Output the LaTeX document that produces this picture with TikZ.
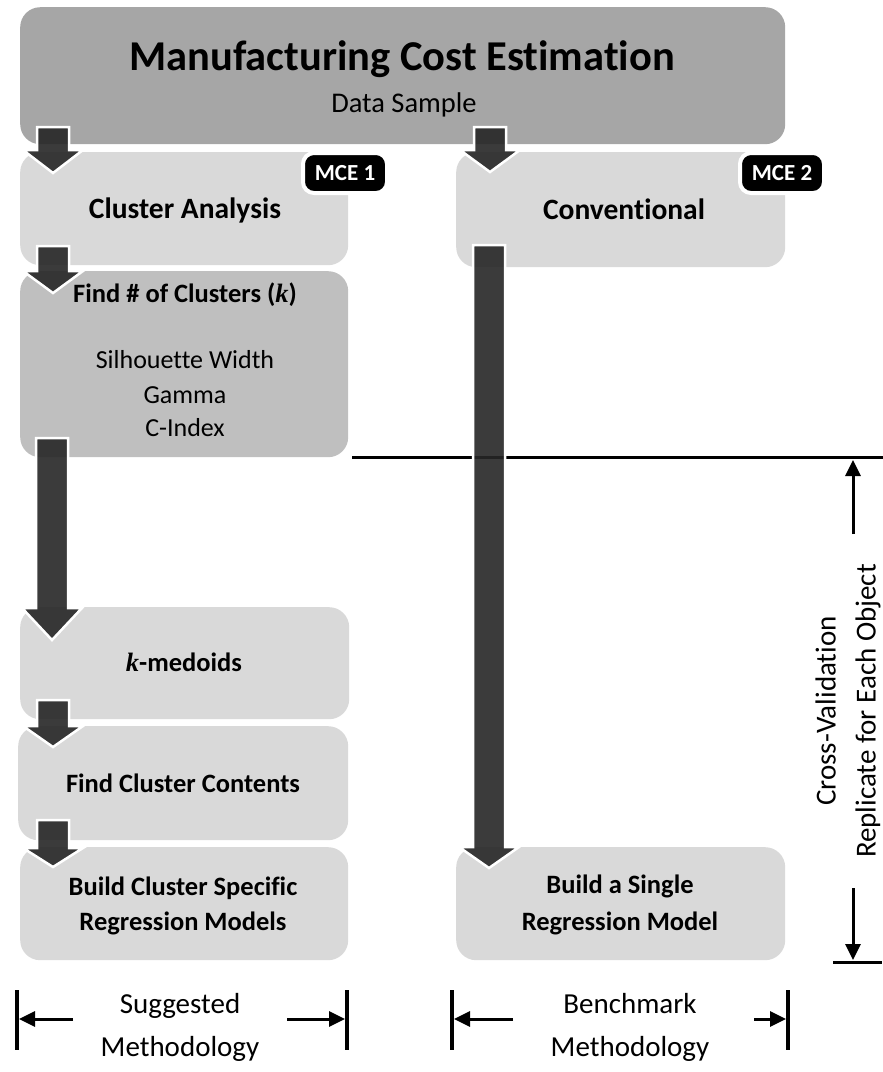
\documentclass[tikz,border=0pt]{standalone}
\usepackage{fontspec}
\setmainfont{Carlito}[Ligatures=NoCommon]
\newfontfamily\kfont{Liberation Serif}
\usetikzlibrary{arrows.meta}
\definecolor{topgray}{HTML}{A6A6A6}
\definecolor{midgray}{HTML}{BFBFBF}
\definecolor{boxlight}{HTML}{D9D9D9}
\definecolor{arrowdark}{HTML}{262626}
\newcommand\kk{{\kfont\bfseries\itshape k}}
\newcommand\fatarr[4]{%
  \filldraw[fatarrow] (#1-16,#2) -- (#1+16,#2) -- (#1+16,#3) -- (#1+30,#3) -- (#1,#4) -- (#1-30,#3) -- (#1-16,#3) -- cycle;}
\tikzset{
  box/.style={draw=none, rounded corners=20pt, anchor=north west, inner sep=0pt},
  fatarrow/.style={fill=arrowdark, fill opacity=0.9, draw=white, draw opacity=1, line width=2.5pt, line join=miter},
  badge/.style={fill=black, draw=white, line width=4pt, rounded corners=11pt, text=white, inner sep=0pt,
    minimum width=84pt, minimum height=40pt, font=\fontsize{23}{27}\selectfont\bfseries},
  lbl/.style={anchor=base, inner sep=0pt, font=\fontsize{26.5}{34}\selectfont\bfseries},
  biglbl/.style={anchor=base, inner sep=0pt, font=\fontsize{29.5}{34}\selectfont\bfseries},
  txt/.style={anchor=base, inner sep=0pt, font=\fontsize{26}{34}\selectfont},
  side/.style={anchor=base, inner sep=0pt, font=\fontsize{29}{40}\selectfont},
  thickline/.style={line width=3pt},
  tip/.style={line width=3pt, -{Triangle[width=15pt,length=16pt]}}
}
\begin{document}
\begin{tikzpicture}[x=1pt,y=-1pt]
\useasboundingbox (0,0) rectangle (883,1072);
% boxes
\node[box, fill=topgray, minimum width=765pt, minimum height=137pt] (top) at (20,7) {};
\node[box, fill=boxlight, minimum width=328pt, minimum height=113pt] (cluster) at (20,152) {};
\node[box, fill=boxlight, minimum width=329pt, minimum height=115pt] (conv) at (456,152) {};
\node[box, fill=midgray, minimum width=328pt, minimum height=186pt] (findk) at (20,271) {};
\node[box, fill=boxlight, minimum width=329pt, minimum height=112pt] (kmed) at (20,607) {};
\node[box, fill=boxlight, minimum width=330pt, minimum height=114pt] (contents) at (18,726) {};
\node[box, fill=boxlight, minimum width=328pt, minimum height=113pt] (build1) at (20,847) {};
\node[box, fill=boxlight, minimum width=329pt, minimum height=113pt] (build2) at (456,847) {};
% texts
\node[anchor=base, inner sep=0pt, font=\fontsize{42.5}{50}\selectfont\bfseries] (title) at (402,70) {Manufacturing Cost Estimation};
\node[anchor=base, inner sep=0pt, font=\fontsize{28.5}{34}\selectfont] (sample) at (404,112) {Data Sample};
\node[biglbl] (tcluster) at (185,218) {Cluster Analysis};
\node[biglbl] (tconv) at (624,219) {Conventional};
\node[lbl] (tfindk) at (185,302) {Find \# of Clusters (\kk)};
\node[txt] (t1) at (185,368) {Silhouette Width};
\node[txt] (t2) at (185,403) {Gamma};
\node[txt] (t3) at (185,436) {C-Index};
\node[lbl] (tkmed) at (184,671) {\kk-medoids};
\node[lbl] (tcont) at (183,792) {Find Cluster Contents};
\node[lbl] (tb1a) at (183,895) {Build Cluster Specific};
\node[lbl] (tb1b) at (183,930) {Regression Models};
\node[lbl] (tb2a) at (620,893) {Build a Single};
\node[lbl] (tb2b) at (620,930) {Regression Model};
% horizontal line
\coordinate (hl1) at (352,457);
\coordinate (hl2) at (883,457);
\draw[thickline] (hl1) -- (hl2);
% fat arrows
\fatarr{53}{127}{150}{173}
\fatarr{490}{127}{150}{172}
\fatarr{53}{246}{271}{293}
\fatarr{52}{438}{608}{640}
\fatarr{53}{700}{726}{747}
\fatarr{53}{820}{848}{867}
\fatarr{489}{245}{847}{868}
% badges
\node[badge] (mce1) at (345,173) {MCE 1};
\node[badge] (mce2) at (782,173) {MCE 2};
% cross validation
\coordinate (up1) at (853,534);
\coordinate (up2) at (853,460);
\draw[tip] (up1) -- (up2);
\coordinate (dn1) at (853,888);
\coordinate (dn2) at (853,960);
\draw[tip] (dn1) -- (dn2);
\coordinate (bb1) at (833,962);
\coordinate (bb2) at (882,962);
\draw[thickline] (bb1) -- (bb2);
\node[rotate=90, align=center, inner sep=0pt, font=\fontsize{29}{40}\selectfont] (cv) at (848,711) {Cross-Validation\\Replicate for Each Object};
% bottom markers
\coordinate (s1) at (17,990); \coordinate (s2) at (17,1050);
\coordinate (s3) at (347,990); \coordinate (s4) at (347,1050);
\draw[line width=3.5pt] (s1) -- (s2);
\draw[line width=3.5pt] (s3) -- (s4);
\coordinate (sa1) at (73,1019); \coordinate (sa2) at (19,1019);
\coordinate (sa3) at (287,1019); \coordinate (sa4) at (345,1019);
\draw[tip] (sa1) -- (sa2);
\draw[tip] (sa3) -- (sa4);
\node[side] (sug1) at (180,1013) {Suggested};
\node[side] (sug2) at (180,1056) {Methodology};
\coordinate (b1) at (452,990); \coordinate (b2) at (452,1050);
\coordinate (b3) at (788,990); \coordinate (b4) at (788,1050);
\draw[line width=3.5pt] (b1) -- (b2);
\draw[line width=3.5pt] (b3) -- (b4);
\coordinate (ba1) at (513,1019); \coordinate (ba2) at (454,1019);
\coordinate (ba3) at (754,1019); \coordinate (ba4) at (786,1019);
\draw[tip] (ba1) -- (ba2);
\draw[tip] (ba3) -- (ba4);
\node[side] (ben1) at (630,1013) {Benchmark};
\node[side] (ben2) at (630,1056) {Methodology};
\end{tikzpicture}
\end{document}
